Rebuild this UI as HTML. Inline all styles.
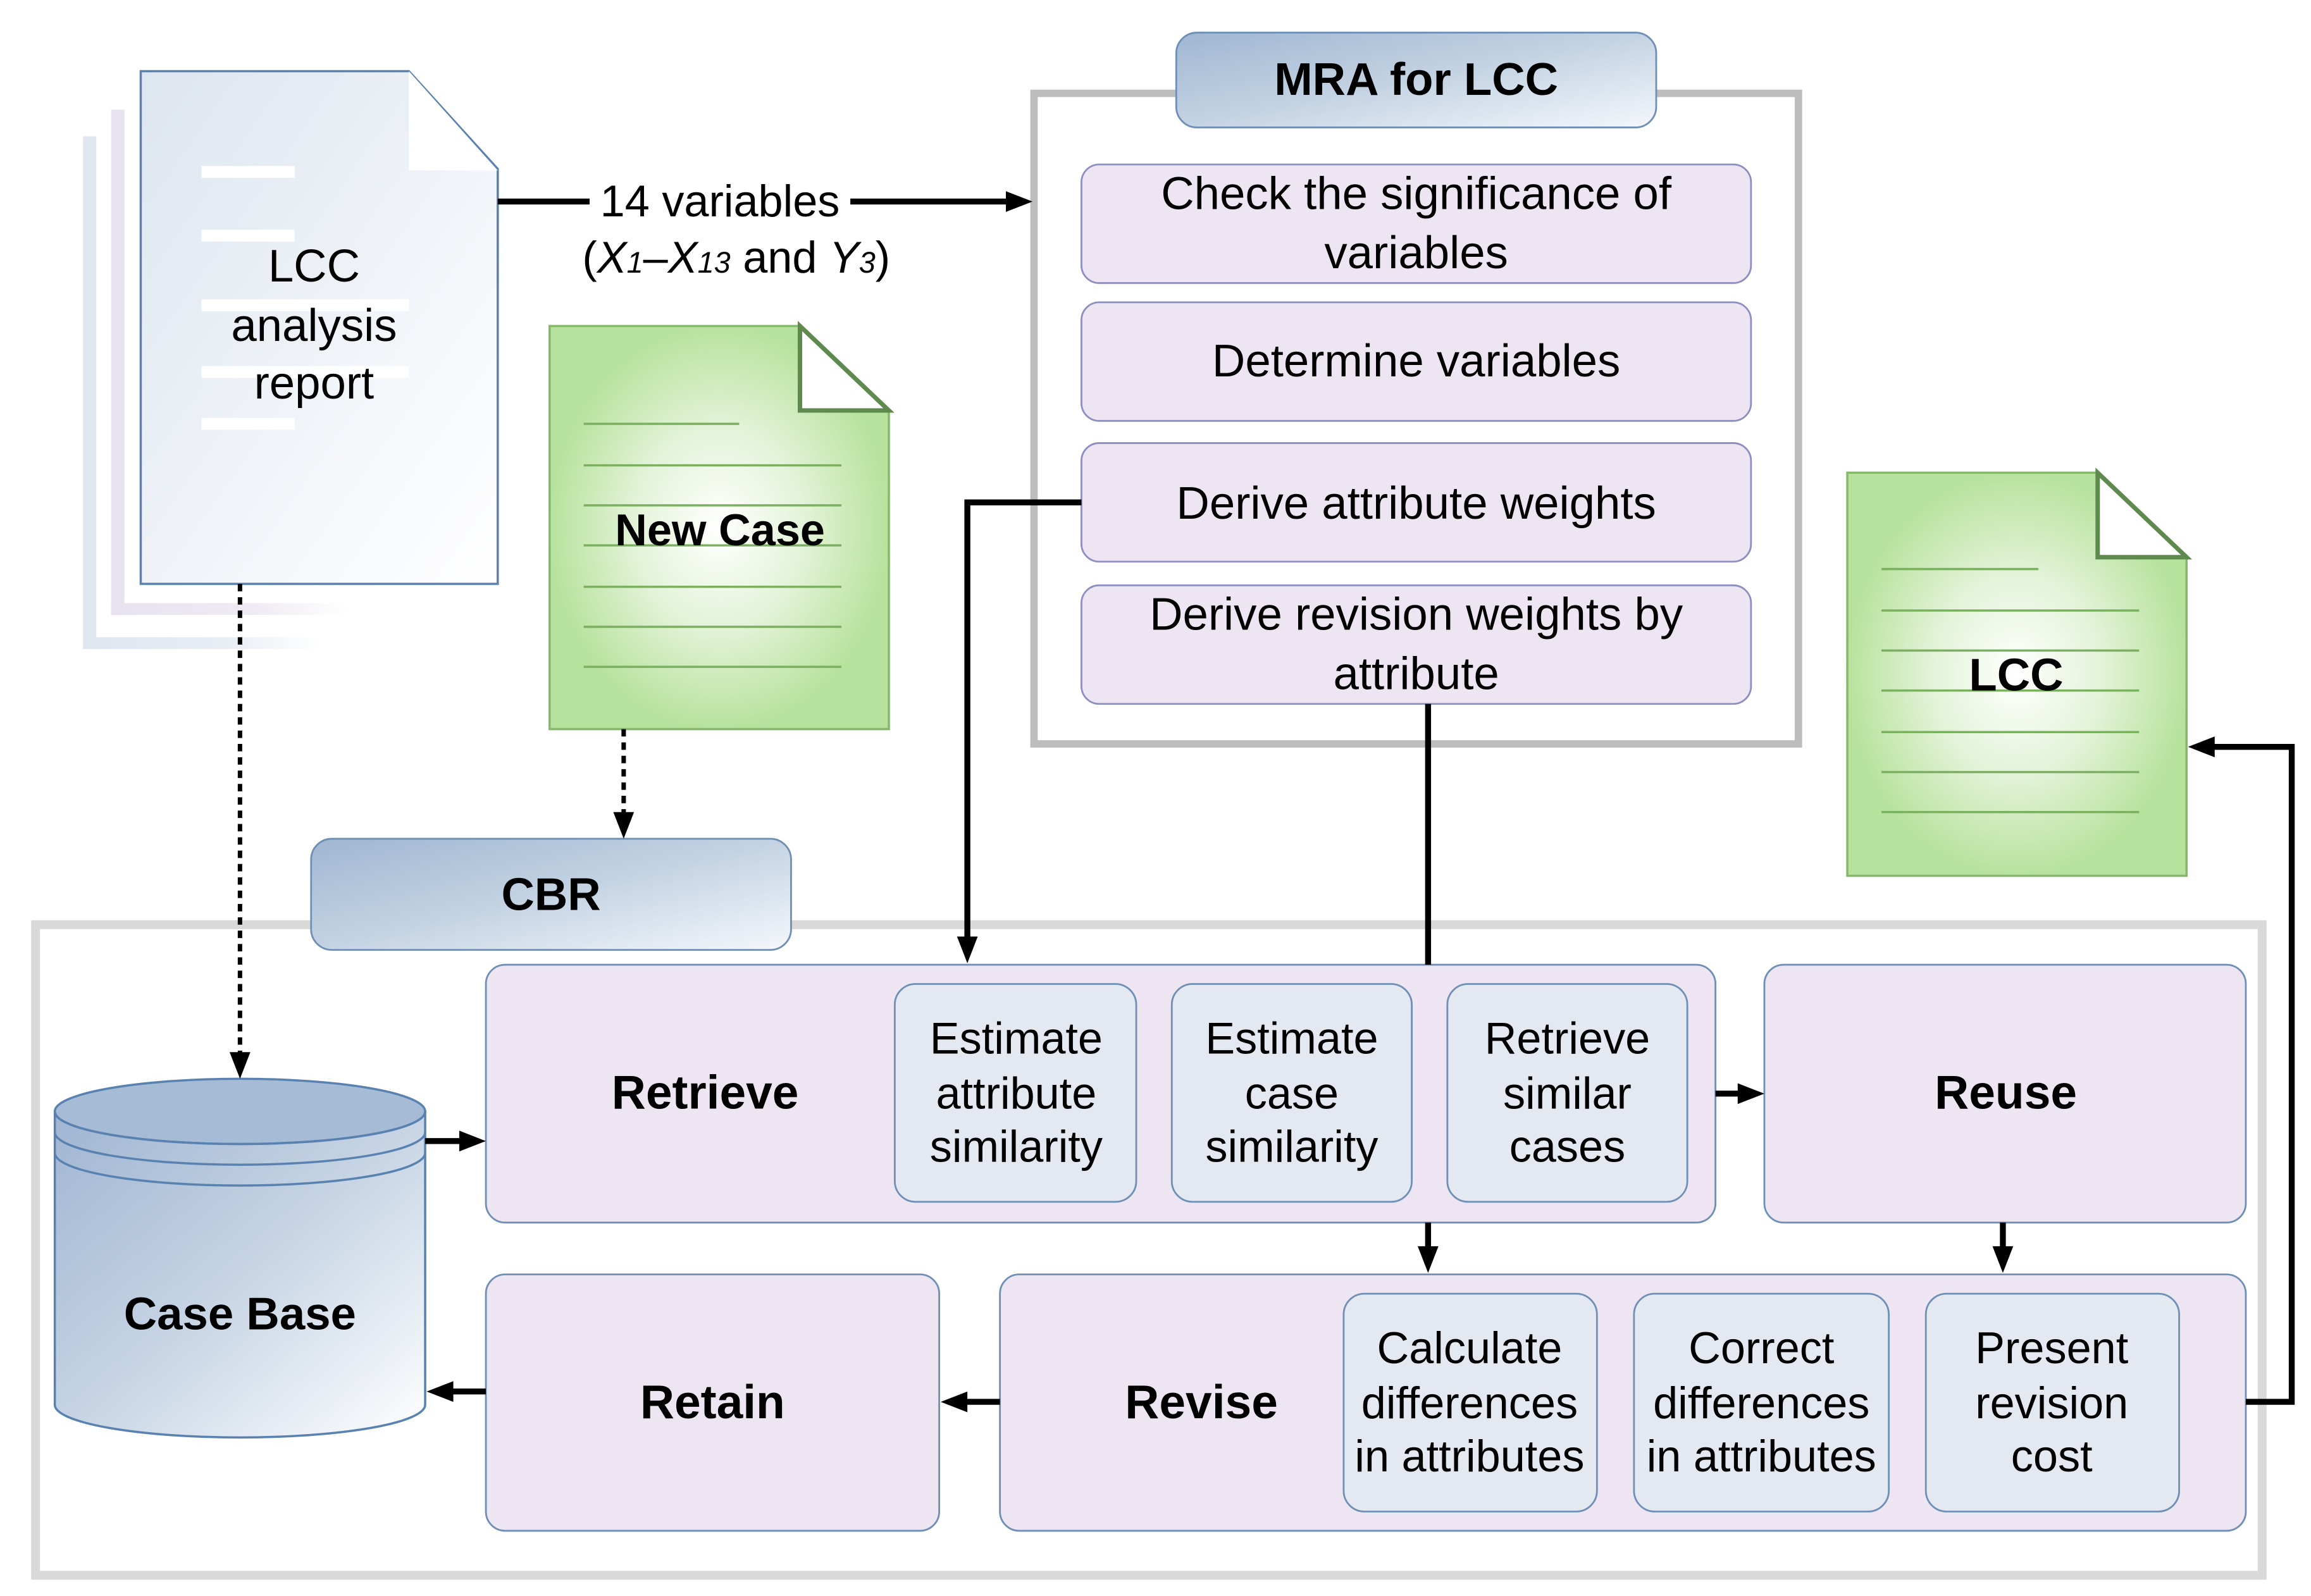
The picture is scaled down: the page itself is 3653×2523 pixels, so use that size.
<!DOCTYPE html>
<html><head><meta charset="utf-8"><style>
html,body{margin:0;padding:0;background:#fff;}
svg{display:block;}
text{font-family:"Liberation Sans Narrow","Liberation Sans",sans-serif;fill:#000;}
.b{font-weight:bold;}
</style></head><body>
<svg width="3653" height="2523" viewBox="0 0 1560 1077" preserveAspectRatio="none" xmlns="http://www.w3.org/2000/svg">
<defs>
<linearGradient id="docg" x1="0" y1="0" x2="1" y2="1">
<stop offset="0" stop-color="#dde5ef"/><stop offset="0.6" stop-color="#f2f5f9"/><stop offset="1" stop-color="#ffffff"/></linearGradient>
<radialGradient id="grn" cx="0.5" cy="0.5" r="0.5">
<stop offset="0" stop-color="#ffffff"/><stop offset="0.5" stop-color="#e3f3d8"/><stop offset="1" stop-color="#b7e29d"/></radialGradient>
<linearGradient id="hdr" x1="0" y1="0" x2="1" y2="1">
<stop offset="0" stop-color="#9fb6d2"/><stop offset="0.5" stop-color="#c4d3e3"/><stop offset="1" stop-color="#f4f7fb"/></linearGradient>
<linearGradient id="cyl" x1="0" y1="0" x2="1" y2="1">
<stop offset="0" stop-color="#9fb5d2"/><stop offset="0.5" stop-color="#c6d4e4"/><stop offset="1" stop-color="#ffffff"/></linearGradient>
<linearGradient id="fadeB" x1="0" y1="0" x2="1" y2="0">
<stop offset="0" stop-color="#dfe6f0"/><stop offset="0.6" stop-color="#e8edf4"/><stop offset="1" stop-color="#ffffff"/></linearGradient>
<linearGradient id="fadeP" x1="0" y1="0" x2="1" y2="0">
<stop offset="0" stop-color="#e8e2ef"/><stop offset="0.6" stop-color="#efeaf3"/><stop offset="1" stop-color="#ffffff"/></linearGradient>
</defs>

<!-- stacked pages -->
<rect x="56" y="92" width="9" height="346" fill="#dfe6f0"/>
<rect x="56" y="430" width="160" height="8" fill="url(#fadeB)"/>
<rect x="75" y="74" width="9" height="341" fill="#e8e2ef"/>
<rect x="75" y="407" width="160" height="8" fill="url(#fadeP)"/>
<polygon points="95,48 276,48 336,114 336,394 95,394" fill="url(#docg)" stroke="#5a82b0" stroke-width="1.5"/>
<polygon points="276,48 276,115 336,115" fill="#fff"/>
<g fill="#fff"><rect x="136" y="112" width="63" height="8"/><rect x="136" y="155" width="63" height="8"/><rect x="136" y="202" width="140" height="8"/><rect x="136" y="247" width="140" height="8"/><rect x="136" y="282" width="63" height="8"/></g>
<text x="212" y="190" font-size="31" text-anchor="middle">LCC</text>
<text x="212" y="230" font-size="31" text-anchor="middle">analysis</text>
<text x="212" y="269" font-size="31" text-anchor="middle">report</text>

<!-- 14 variables arrow -->
<line x1="336" y1="136" x2="682" y2="136" stroke="#000" stroke-width="4"/>
<rect x="398" y="120" width="176" height="32" fill="#fff"/>
<text x="486" y="146" font-size="30" text-anchor="middle">14 variables</text>
<text x="497" y="184" font-size="30" text-anchor="middle">(<tspan font-style="italic">X</tspan><tspan font-style="italic" font-size="20">1</tspan>–<tspan font-style="italic">X</tspan><tspan font-style="italic" font-size="20">13</tspan> and <tspan font-style="italic">Y</tspan><tspan font-style="italic" font-size="20">3</tspan>)</text>

<!-- MRA container -->
<rect x="698" y="63" width="516" height="439" fill="none" stroke="#bdbdbd" stroke-width="5"/>
<rect x="794" y="22" width="324" height="64" rx="14" fill="url(#hdr)" stroke="#6f8fb5" stroke-width="1.2"/>
<text x="956" y="64" font-size="31" class="b" text-anchor="middle">MRA for LCC</text>
<g fill="#ede6f2" stroke="#8c8fc0" stroke-width="1.2">
<rect x="730" y="111" width="452" height="80" rx="12"/>
<rect x="730" y="204" width="452" height="80" rx="12"/>
<rect x="730" y="299" width="452" height="80" rx="12"/>
<rect x="730" y="395" width="452" height="80" rx="12"/>
</g>
<g font-size="31" text-anchor="middle">
<text x="956" y="141">Check the significance of</text><text x="956" y="181">variables</text>
<text x="956" y="254">Determine variables</text>
<text x="956" y="350">Derive attribute weights</text>
<text x="956" y="425">Derive revision weights by</text><text x="956" y="465">attribute</text>
</g>

<!-- New Case doc -->
<polygon points="371,220 540,220 600,277 600,492 371,492" fill="url(#grn)" stroke="#86b86c" stroke-width="1.5"/>
<polygon points="540,220 540,277 600,277" fill="#fff" stroke="#5e8a4e" stroke-width="3"/>
<g stroke="#7ab060" stroke-width="1.5">
<line x1="394" y1="286" x2="499" y2="286"/><line x1="394" y1="314" x2="568" y2="314"/><line x1="394" y1="341" x2="568" y2="341"/><line x1="394" y1="368" x2="568" y2="368"/><line x1="394" y1="396" x2="568" y2="396"/><line x1="394" y1="423" x2="568" y2="423"/><line x1="394" y1="450" x2="568" y2="450"/>
</g>
<text x="486" y="368" font-size="30" class="b" text-anchor="middle">New Case</text>

<!-- LCC doc -->
<polygon points="1247,319 1416,319 1476,376 1476,591 1247,591" fill="url(#grn)" stroke="#86b86c" stroke-width="1.5"/>
<polygon points="1416,319 1416,376 1476,376" fill="#fff" stroke="#5e8a4e" stroke-width="3"/>
<g stroke="#7ab060" stroke-width="1.5">
<line x1="1270" y1="384" x2="1376" y2="384"/><line x1="1270" y1="412" x2="1444" y2="412"/><line x1="1270" y1="439" x2="1444" y2="439"/><line x1="1270" y1="466" x2="1444" y2="466"/><line x1="1270" y1="494" x2="1444" y2="494"/><line x1="1270" y1="521" x2="1444" y2="521"/><line x1="1270" y1="548" x2="1444" y2="548"/>
</g>
<text x="1361" y="466" font-size="31" class="b" text-anchor="middle">LCC</text>

<!-- CBR container -->
<rect x="24" y="624" width="1503" height="439" fill="none" stroke="#d9d9d9" stroke-width="6"/>
<rect x="210" y="566" width="324" height="75" rx="14" fill="url(#hdr)" stroke="#6f8fb5" stroke-width="1.2"/>
<text x="372" y="614" font-size="31" class="b" text-anchor="middle">CBR</text>

<!-- dotted arrows -->
<line x1="162" y1="394" x2="162" y2="712" stroke="#000" stroke-width="3" stroke-dasharray="5,4"/>
<line x1="421" y1="492" x2="421" y2="550" stroke="#000" stroke-width="3" stroke-dasharray="5,4"/>

<!-- Case base cylinder -->
<path d="M37,750 L37,948 A125,22 0 0 0 287,948 L287,750 Z" fill="url(#cyl)" stroke="#5a82b0" stroke-width="1.5"/>
<ellipse cx="162" cy="750" rx="125" ry="22" fill="#a6bcd6" stroke="#5a82b0" stroke-width="1.5"/>
<path d="M37,750 A125,22 0 0 0 287,750 M37,764 A125,22 0 0 0 287,764 M37,778 A125,22 0 0 0 287,778" fill="none" stroke="#5a82b0" stroke-width="1.5"/>
<text x="162" y="897" font-size="31" class="b" text-anchor="middle">Case Base</text>

<!-- stage boxes -->
<g fill="#ede6f2" stroke="#6f8fb5" stroke-width="1.2">
<rect x="328" y="651" width="830" height="174" rx="13"/>
<rect x="1191" y="651" width="325" height="174" rx="13"/>
<rect x="328" y="860" width="306" height="173" rx="13"/>
<rect x="675" y="860" width="841" height="173" rx="13"/>
</g>
<g fill="#e4e8f1" stroke="#6f8fb5" stroke-width="1.2">
<rect x="604" y="664" width="163" height="147" rx="14"/>
<rect x="791" y="664" width="162" height="147" rx="14"/>
<rect x="977" y="664" width="162" height="147" rx="14"/>
<rect x="907" y="873" width="171" height="147" rx="14"/>
<rect x="1103" y="873" width="172" height="147" rx="14"/>
<rect x="1300" y="873" width="171" height="147" rx="14"/>
</g>
<g font-size="32" class="b" text-anchor="middle">
<text x="476" y="748">Retrieve</text>
<text x="1354" y="748">Reuse</text>
<text x="481" y="957">Retain</text>
<text x="811" y="957">Revise</text>
</g>
<g font-size="30" text-anchor="middle">
<text x="686" y="711">Estimate</text><text x="686" y="748">attribute</text><text x="686" y="784">similarity</text>
<text x="872" y="711">Estimate</text><text x="872" y="748">case</text><text x="872" y="784">similarity</text>
<text x="1058" y="711">Retrieve</text><text x="1058" y="748">similar</text><text x="1058" y="784">cases</text>
<text x="992" y="920">Calculate</text><text x="992" y="957">differences</text><text x="992" y="993">in attributes</text>
<text x="1189" y="920">Correct</text><text x="1189" y="957">differences</text><text x="1189" y="993">in attributes</text>
<text x="1385" y="920">Present</text><text x="1385" y="957">revision</text><text x="1385" y="993">cost</text>
</g>

<!-- connectors -->
<g stroke="#000" stroke-width="4" fill="none">
<line x1="287" y1="770" x2="312" y2="770"/>
<line x1="328" y1="939" x2="304" y2="939"/>
<line x1="675" y1="946" x2="651" y2="946"/>
<line x1="1158" y1="738" x2="1175" y2="738"/>
<line x1="964" y1="825" x2="964" y2="843"/>
<line x1="1352" y1="825" x2="1352" y2="843"/>
<polyline points="730,339 653,339 653,634"/>
<line x1="964" y1="475" x2="964" y2="651"/>
<polyline points="1516,946 1547,946 1547,504 1493,504"/>
</g>
<g fill="#000">
<polygon points="679,129 697,136 679,143"/>
<polygon points="155,710 162,728 169,710"/>
<polygon points="414,548 421,566 428,548"/>
<polygon points="310,763 328,770 310,777"/>
<polygon points="306,932 288,939 306,946"/>
<polygon points="653,939 635,946 653,953"/>
<polygon points="1173,731 1191,738 1173,745"/>
<polygon points="957,841 964,859 971,841"/>
<polygon points="1345,841 1352,859 1359,841"/>
<polygon points="646,632 653,650 660,632"/>
<polygon points="1495,497 1477,504 1495,511"/>
</g>
</svg>
</body></html>
